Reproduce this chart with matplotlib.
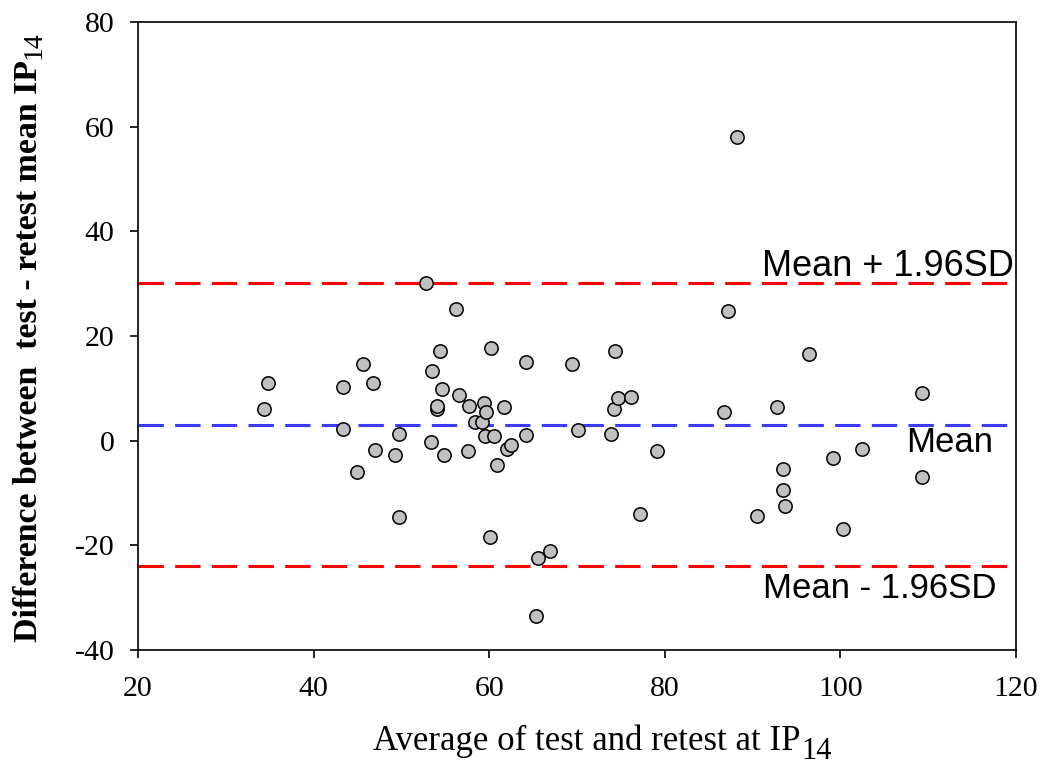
import matplotlib
matplotlib.use("Agg")
import matplotlib.pyplot as plt

plt.rcParams["axes.unicode_minus"] = False

# Data
avg = [34.4, 34.8, 43.3, 43.4, 44.9, 45.6, 46.8, 47.0, 49.3, 49.7, 49.7,
       53.5, 53.4, 54.1, 54.1, 54.4, 54.6, 54.9, 52.8, 56.2, 56.6, 57.7,
       57.6, 58.4, 59.2, 59.4, 59.6, 59.5, 60.5, 60.2, 60.1, 60.9, 61.7,
       62.0, 62.5, 64.2, 64.2, 65.6, 66.9, 65.3, 69.4, 70.1, 74.3, 73.9,
       74.2, 74.7, 76.1, 77.2, 79.1, 87.2, 86.7, 88.2, 90.5, 92.8, 93.5,
       93.5, 93.7, 96.4, 99.2, 100.3, 102.5, 109.3, 109.3]
diff = [6.0, 11.0, 10.2, 2.2, -6.0, 14.6, 11.0, -1.8, -2.7, 1.3, -14.6,
        13.3, -0.3, 6.0, 6.6, 17.1, 9.9, -2.7, 30.1, 25.2, 8.7, 6.6,
        -2.0, 3.5, 3.5, 7.2, 5.5, 0.9, 0.9, 17.7, -18.4, -4.7, 6.4,
        -1.6, -0.8, 15.0, 1.1, -22.4, -21.1, -33.5, 14.6, 2.0, 17.1, 1.3,
        6.0, 8.2, 8.3, -14.0, -2.0, 24.8, 5.5, 58.0, -14.4, 6.4, -5.4,
        -9.4, -12.5, 16.6, -3.3, -16.9, -1.6, 9.1, -6.9]
mean_diff = 3.0
upper_loa = 30.1
lower_loa = -24.0

xticks = [20, 40, 60, 80, 100, 120]
yticks = [-40, -20, 0, 20, 40, 60, 80]

fig = plt.figure(figsize=(10.43, 7.67), dpi=100)
ax = fig.add_axes([0.1323, 0.1525, 0.8418, 0.8188])

ax.axhline(upper_loa, color="#ff0000", lw=2.2, dashes=(8.3, 3.7), zorder=1)
ax.axhline(lower_loa, color="#ff0000", lw=2.2, dashes=(8.3, 3.7), zorder=1)
ax.axhline(mean_diff, color="#3b3bff", lw=2.2, dashes=(8.3, 3.7), zorder=1)

ax.plot(avg, diff, linestyle="none", marker="o", markersize=9.6,
        markerfacecolor="#c0c0c0", markeredgecolor="black",
        markeredgewidth=1.1, zorder=3)

ax.set_xlim(20, 120)
ax.set_ylim(-40, 80)
ax.set_xticks(xticks)
ax.set_yticks(yticks)
ax.tick_params(direction="out", length=5.8, width=1.2, labelsize=21.5,
               top=False, right=False)
for lab in ax.get_xticklabels() + ax.get_yticklabels():
    lab.set_fontfamily("Liberation Serif")
ax.tick_params(axis="x", pad=13)
ax.tick_params(axis="y", pad=11)
for s in ax.spines.values():
    s.set_linewidth(1.2)

ax.set_xlabel("Average of test and retest at IP", fontsize=25,
              family="Liberation Serif", labelpad=16)
ax.xaxis.label.set_x(0.511)
ax.annotate("14", xy=(1, 0), xycoords=ax.xaxis.label, xytext=(0.5, -0.6),
            textcoords="offset points", ha="left", va="baseline",
            fontsize=22, family="Liberation Serif")

ax.set_ylabel("Difference between  test - retest mean IP", fontsize=24.4,
              family="Liberation Serif", fontweight="bold", labelpad=22)
ax.yaxis.label.set_y(0.476)
ax.annotate("14", xy=(1, 1), xycoords=ax.yaxis.label, xytext=(-2.5, 0.5),
            textcoords="offset points", ha="left", va="baseline",
            rotation=90, rotation_mode="anchor",
            fontsize=20, family="Liberation Serif")

txt = dict(family="Liberation Sans", fontsize=25, ha="right", va="baseline")
ax.text(119.8, 31.5, "Mean + 1.96SD", fontsize=26,
        **{k: v for k, v in txt.items() if k != "fontsize"})
ax.text(117.4, -2.1, "Mean", **txt)
ax.text(117.8, -30.1, "Mean - 1.96SD", **txt)

fig.savefig("out.png", dpi=100)
